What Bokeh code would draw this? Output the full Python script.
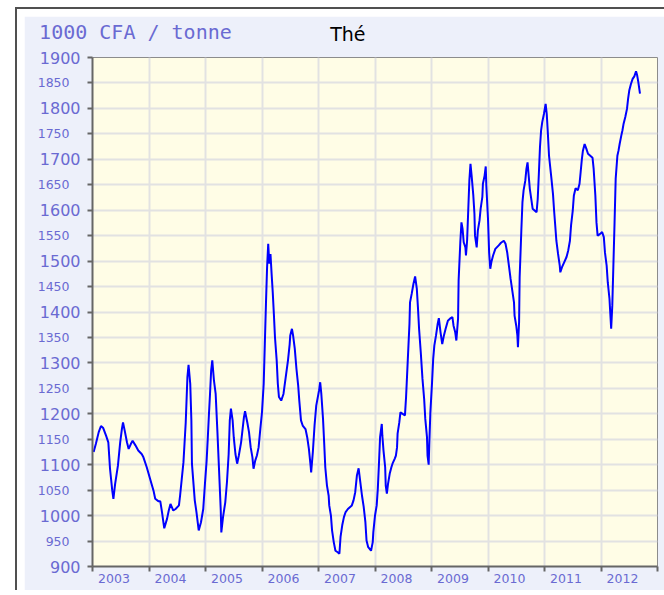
from bokeh.plotting import figure
from bokeh.models import FixedTicker, CustomJSTickFormatter, LinearAxis, Range1d, Spacer
from bokeh.layouts import column, row
from bokeh.embed import file_html
from bokeh.resources import INLINE

# ---- data (decimal year, price in 1000 CFA / tonne) ----
dates_2003 = [2003.02, 2003.06, 2003.11, 2003.15, 2003.19, 2003.24, 2003.28, 2003.31, 2003.35, 2003.37,
              2003.40, 2003.45, 2003.49, 2003.52, 2003.54, 2003.57, 2003.61, 2003.64, 2003.68, 2003.71,
              2003.76, 2003.81, 2003.87, 2003.90, 2003.96]
prices_2003 = [1125, 1141, 1164, 1176, 1172, 1157, 1144, 1092, 1049, 1033,
               1062, 1098, 1144, 1170, 1183, 1167, 1144, 1131, 1141, 1147,
               1138, 1128, 1121, 1115, 1095]
dates_2004 = [2004.02, 2004.08, 2004.11, 2004.17, 2004.20, 2004.23, 2004.27, 2004.32, 2004.35, 2004.38,
              2004.43, 2004.47, 2004.53, 2004.55, 2004.58, 2004.61, 2004.63, 2004.65, 2004.68, 2004.70,
              2004.73, 2004.75, 2004.76, 2004.81, 2004.84, 2004.88, 2004.92, 2004.96, 2004.99]
prices_2004 = [1072, 1049, 1033, 1028, 1028, 1007, 975, 994, 1010, 1023,
               1010, 1013, 1020, 1039, 1072, 1105, 1144, 1183, 1272, 1296,
               1259, 1187, 1102, 1030, 1007, 971, 987, 1013, 1062]
dates_2005 = [2005.02, 2005.04, 2005.06, 2005.08, 2005.10, 2005.12, 2005.15, 2005.18, 2005.21, 2005.24,
              2005.27, 2005.28, 2005.31, 2005.35, 2005.38, 2005.41, 2005.43, 2005.45, 2005.48, 2005.50,
              2005.53, 2005.56, 2005.59, 2005.63, 2005.68, 2005.70, 2005.74, 2005.77, 2005.80, 2005.83,
              2005.85, 2005.88, 2005.91, 2005.94, 2005.97]
prices_2005 = [1108, 1151, 1197, 1239, 1285, 1305, 1265, 1239, 1167, 1089,
               1010, 967, 997, 1026, 1066, 1121, 1187, 1210, 1187, 1154,
               1121, 1102, 1118, 1144, 1193, 1205, 1183, 1164, 1134, 1115,
               1092, 1108, 1118, 1134, 1170]
dates_2006 = [2006.00, 2006.03, 2006.05, 2006.07, 2006.09, 2006.11, 2006.13, 2006.15, 2006.17, 2006.19,
              2006.21, 2006.23, 2006.26, 2006.28, 2006.30, 2006.34, 2006.38, 2006.42, 2006.46, 2006.49,
              2006.50, 2006.53, 2006.55, 2006.58, 2006.61, 2006.64, 2006.66, 2006.69, 2006.72, 2006.77,
              2006.80, 2006.83, 2006.86, 2006.87, 2006.90, 2006.93, 2006.96]
prices_2006 = [1203, 1259, 1337, 1416, 1488, 1534, 1495, 1514, 1475, 1439,
               1396, 1350, 1305, 1259, 1233, 1226, 1239, 1272, 1305, 1337,
               1354, 1367, 1354, 1328, 1288, 1256, 1226, 1187, 1177, 1170,
               1154, 1131, 1098, 1085, 1125, 1177, 1216]
dates_2007 = [2007.01, 2007.03, 2007.05, 2007.08, 2007.10, 2007.12, 2007.15, 2007.18, 2007.19, 2007.22,
              2007.24, 2007.27, 2007.30, 2007.34, 2007.37, 2007.39, 2007.42, 2007.45, 2007.48, 2007.52,
              2007.56, 2007.59, 2007.62, 2007.65, 2007.68, 2007.71, 2007.74, 2007.77, 2007.80, 2007.83,
              2007.85, 2007.88, 2007.93, 2007.96, 2007.97]
prices_2007 = [1246, 1262, 1239, 1190, 1144, 1095, 1059, 1039, 1020, 1000,
               971, 948, 931, 928, 925, 958, 981, 997, 1007, 1013,
               1017, 1020, 1030, 1046, 1079, 1093, 1066, 1039, 1017, 987,
               951, 938, 931, 948, 967]
dates_2008 = [2008.00, 2008.03, 2008.05, 2008.07, 2008.09, 2008.12, 2008.13, 2008.15, 2008.18, 2008.19,
              2008.21, 2008.23, 2008.26, 2008.29, 2008.31, 2008.35, 2008.37, 2008.39, 2008.40, 2008.43,
              2008.45, 2008.49, 2008.53, 2008.55, 2008.58, 2008.61, 2008.62, 2008.65, 2008.68, 2008.71,
              2008.74, 2008.76, 2008.78, 2008.81, 2008.84, 2008.87, 2008.89, 2008.92, 2008.93, 2008.95,
              2008.96, 2008.98]
prices_2008 = [1000, 1020, 1053, 1102, 1154, 1180, 1157, 1128, 1095, 1059,
               1043, 1062, 1082, 1095, 1102, 1112, 1118, 1134, 1161, 1183,
               1203, 1200, 1197, 1233, 1305, 1377, 1419, 1436, 1455, 1470,
               1446, 1409, 1367, 1321, 1269, 1229, 1190, 1154, 1118, 1100,
               1138, 1203]
dates_2009 = [2009.01, 2009.03, 2009.05, 2009.08, 2009.11, 2009.13, 2009.16, 2009.19, 2009.22, 2009.25,
              2009.29, 2009.34, 2009.37, 2009.39, 2009.42, 2009.44, 2009.47, 2009.48, 2009.51, 2009.53,
              2009.55, 2009.57, 2009.60, 2009.61, 2009.63, 2009.65, 2009.67, 2009.69, 2009.71, 2009.74,
              2009.76, 2009.77, 2009.80, 2009.82, 2009.85, 2009.87, 2009.90, 2009.91, 2009.94, 2009.96,
              2009.97]
prices_2009 = [1262, 1308, 1334, 1354, 1377, 1388, 1360, 1337, 1354, 1367,
               1383, 1388, 1390, 1373, 1360, 1344, 1387, 1462, 1537, 1576,
               1563, 1537, 1527, 1511, 1540, 1599, 1658, 1691, 1668, 1629,
               1593, 1550, 1527, 1560, 1580, 1603, 1626, 1652, 1668, 1686,
               1649]
dates_2010 = [2010.00, 2010.02, 2010.04, 2010.06, 2010.09, 2010.13, 2010.19, 2010.23, 2010.28, 2010.31,
              2010.34, 2010.37, 2010.40, 2010.43, 2010.46, 2010.47, 2010.50, 2010.52, 2010.53, 2010.55,
              2010.56, 2010.59, 2010.61, 2010.63, 2010.66, 2010.68, 2010.70, 2010.72, 2010.74, 2010.77,
              2010.79, 2010.83, 2010.86, 2010.88, 2010.90, 2010.92, 2010.94, 2010.96, 2010.99]
prices_2010 = [1583, 1517, 1485, 1498, 1511, 1524, 1531, 1536, 1540, 1534,
               1517, 1491, 1465, 1442, 1419, 1393, 1373, 1354, 1331, 1380,
               1468, 1560, 1616, 1639, 1658, 1681, 1694, 1668, 1642, 1619,
               1603, 1599, 1596, 1622, 1671, 1724, 1757, 1773, 1789]
dates_2011 = [2011.02, 2011.04, 2011.06, 2011.08, 2011.12, 2011.15, 2011.17, 2011.19, 2011.21, 2011.24,
              2011.27, 2011.28, 2011.31, 2011.35, 2011.39, 2011.42, 2011.45, 2011.47, 2011.50, 2011.52,
              2011.55, 2011.59, 2011.62, 2011.64, 2011.66, 2011.68, 2011.71, 2011.74, 2011.77, 2011.81,
              2011.85, 2011.87, 2011.90, 2011.92, 2011.94, 2011.98]
prices_2011 = [1809, 1789, 1750, 1707, 1665, 1632, 1599, 1570, 1540, 1514,
               1491, 1478, 1488, 1498, 1508, 1521, 1540, 1570, 1599, 1629,
               1643, 1639, 1652, 1675, 1699, 1717, 1730, 1721, 1711, 1707,
               1703, 1681, 1629, 1576, 1550, 1553]
dates_2012 = [2012.02, 2012.05, 2012.07, 2012.10, 2012.12, 2012.15, 2012.16, 2012.18, 2012.20, 2012.22,
              2012.24, 2012.26, 2012.29, 2012.31, 2012.33, 2012.36, 2012.38, 2012.40, 2012.43, 2012.46,
              2012.48, 2012.50, 2012.53, 2012.56, 2012.59, 2012.62, 2012.64, 2012.66, 2012.69]
prices_2012 = [1557, 1547, 1517, 1491, 1458, 1426, 1406, 1367, 1413, 1495,
               1576, 1662, 1707, 1717, 1730, 1747, 1757, 1770, 1783, 1799,
               1819, 1835, 1848, 1858, 1863, 1873, 1865, 1852, 1829]

year_labels = [2003, 2004, 2005, 2006, 2007, 2008, 2009, 2010, 2011, 2012]
y_major_ticks = [900, 1000, 1100, 1200, 1300, 1400, 1500, 1600, 1700, 1800, 1900]
y_minor_ticks = [950, 1050, 1150, 1250, 1350, 1450, 1550, 1650, 1750, 1850]
unit_text = "1000 CFA / tonne"
title_text = "Thé"

dates = (dates_2003 + dates_2004 + dates_2005 + dates_2006 + dates_2007 + dates_2008
         + dates_2009 + dates_2010 + dates_2011 + dates_2012)
prices = (prices_2003 + prices_2004 + prices_2005 + prices_2006 + prices_2007 + prices_2008
          + prices_2009 + prices_2010 + prices_2011 + prices_2012)

LABEL_COLOR = "#6A6AD2"
AXIS_COLOR = "#666666"
PANEL_COLOR = "#EDF0FA"

p = figure(width=640, height=574, output_backend="svg", toolbar_location=None,
           x_range=Range1d(2003, 2013), y_range=Range1d(900, 1900),
           min_border_left=68, min_border_right=7, min_border_top=41, min_border_bottom=24,
           sizing_mode="fixed")
p.border_fill_color = PANEL_COLOR
p.background_fill_color = "#FFFDE6"
p.outline_line_color = "#8C8C8C"
p.outline_line_width = 1

p.line(dates, prices, line_color="#0000FF", line_width=2)

# grids
p.xgrid.ticker = FixedTicker(ticks=list(range(year_labels[0] + 1, year_labels[-1] + 1)))
p.ygrid.ticker = FixedTicker(ticks=sorted(y_major_ticks + y_minor_ticks))
for g in (p.xgrid, p.ygrid):
    g.grid_line_color = "#E2E2E2"
    g.grid_line_width = 2

# x axis: labels mid-year, tick marks at year boundaries
xa = p.xaxis[0]
xa.ticker = FixedTicker(ticks=[y + 0.38 for y in year_labels],
                        minor_ticks=list(range(year_labels[0], year_labels[-1] + 2)))
xa.formatter = CustomJSTickFormatter(code="return Math.floor(tick).toString();")
xa.major_tick_out = 0
xa.major_tick_in = 0
xa.minor_tick_out = 5
xa.minor_tick_in = 0
xa.axis_line_color = AXIS_COLOR
xa.axis_line_width = 2
xa.minor_tick_line_color = AXIS_COLOR
xa.minor_tick_line_width = 2
xa.major_label_text_font = "DejaVu Sans"
xa.major_label_text_font_size = "12.5px"
xa.major_label_text_color = LABEL_COLOR
xa.major_label_standoff = 2

# y axis (hundreds, large labels)
ya = p.yaxis[0]
ya.ticker = FixedTicker(ticks=y_major_ticks, minor_ticks=y_minor_ticks)
ya.major_tick_out = 5
ya.major_tick_in = 0
ya.minor_tick_out = 5
ya.minor_tick_in = 0
ya.axis_line_color = AXIS_COLOR
ya.axis_line_width = 2
ya.major_tick_line_color = AXIS_COLOR
ya.minor_tick_line_color = AXIS_COLOR
ya.major_tick_line_width = 2
ya.minor_tick_line_width = 2
ya.major_label_text_font = "DejaVu Sans"
ya.major_label_text_font_size = "16px"
ya.major_label_text_color = LABEL_COLOR
ya.major_label_standoff = 7

# second left axis: smaller labels for the 50-steps, pulled in next to the ticks
ya2 = LinearAxis(ticker=FixedTicker(ticks=y_minor_ticks))
ya2.axis_line_color = None
ya2.major_tick_line_color = None
ya2.minor_tick_line_color = None
ya2.major_tick_out = 0
ya2.major_tick_in = 0
ya2.major_label_text_font = "DejaVu Sans"
ya2.major_label_text_font_size = "12.5px"
ya2.major_label_text_color = LABEL_COLOR
ya2.major_label_standoff = -33
p.add_layout(ya2, "left")

# header texts, as labels of two hidden axes above the frame
def header_axis(pos, text, font, size, color, standoff):
    ax = LinearAxis(ticker=FixedTicker(ticks=[pos]), major_label_overrides={pos: text})
    ax.axis_line_color = None
    ax.major_tick_line_color = None
    ax.minor_tick_line_color = None
    ax.major_tick_out = 0
    ax.major_tick_in = 0
    ax.major_label_text_font = font
    ax.major_label_text_font_size = size
    ax.major_label_text_color = color
    ax.major_label_standoff = standoff
    return ax

p.add_layout(header_axis(2007.52, title_text, "DejaVu Sans", "19px", "#000000", 13), "above")
p.add_layout(header_axis(2003.76, unit_text, "DejaVu Sans Mono", "20px", LABEL_COLOR, -24), "above")

# page frame: white margin, dark border line on the left and top
DARK = "#505050"
NOSHRINK = {"flex-shrink": "0", "flex-grow": "0"}
def gap(w, h, color=None):
    st = dict(NOSHRINK)
    if color:
        st["background-color"] = color
    return Spacer(width=w, height=h, sizing_mode="fixed", styles=st)

inner = column(gap(647, 2, DARK), gap(647, 7),
               row(gap(7, 574), p, sizing_mode="fixed", width=647, height=574, styles=NOSHRINK),
               sizing_mode="fixed", width=647, height=583, styles=NOSHRINK)
main_row = row(gap(15, 583), gap(2, 583, DARK), inner, sizing_mode="fixed",
               width=664, height=583, styles=NOSHRINK)
layout = column(gap(664, 7), main_row, sizing_mode="fixed", width=664, height=590,
                styles=NOSHRINK)

open("out.html", "w").write(file_html(layout, INLINE))
